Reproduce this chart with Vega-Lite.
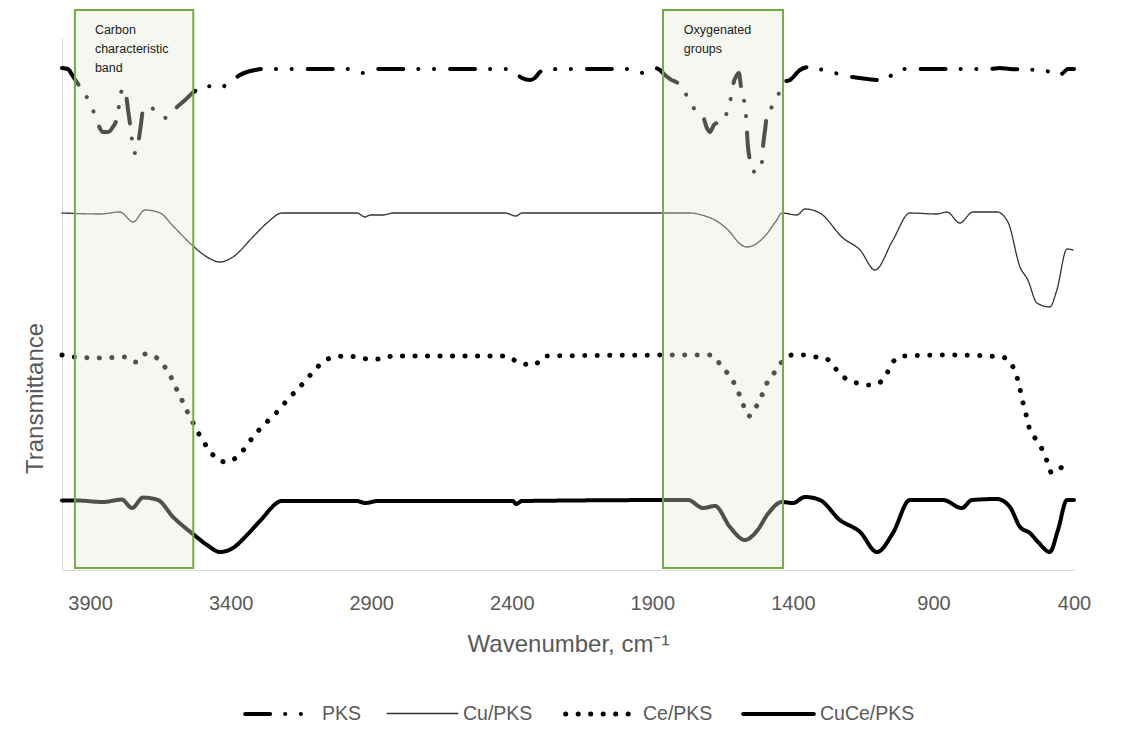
{
  "$schema": "https://vega.github.io/schema/vega-lite/v6.json",
  "width": 1012,
  "height": 532,
  "autosize": {"type": "none"},
  "padding": {"left": 62, "top": 38, "right": 58, "bottom": 174},
  "background": "#ffffff",
  "config": {
    "view": {"stroke": null},
    "font": "Liberation Sans",
    "axis": {"labelFont": "Liberation Sans", "titleFont": "Liberation Sans", "labelColor": "#595959", "titleColor": "#595959", "titleFontWeight": "normal"},
    "legend": {"labelFont": "Liberation Sans", "labelColor": "#595959"}
  },
  "datasets": {
    "spectra": [
      {"series": "PKS", "wn": 4000, "t": 125.5}, {"series": "PKS", "wn": 3979, "t": 125.25}, {"series": "PKS", "wn": 3964, "t": 123.75}, {"series": "PKS", "wn": 3950, "t": 122.25}, {"series": "PKS", "wn": 3929, "t": 120}, {"series": "PKS", "wn": 3908, "t": 117.75}, {"series": "PKS", "wn": 3886, "t": 114.25}, {"series": "PKS", "wn": 3872, "t": 111.5}, {"series": "PKS", "wn": 3854, "t": 109.5}, {"series": "PKS", "wn": 3836, "t": 109.5}, {"series": "PKS", "wn": 3819, "t": 110.75}, {"series": "PKS", "wn": 3804, "t": 113}, {"series": "PKS", "wn": 3797, "t": 116.25}, {"series": "PKS", "wn": 3787, "t": 120}, {"series": "PKS", "wn": 3779, "t": 120.5}, {"series": "PKS", "wn": 3772, "t": 118.75}, {"series": "PKS", "wn": 3765, "t": 115}, {"series": "PKS", "wn": 3758, "t": 111.5}, {"series": "PKS", "wn": 3751, "t": 107.5}, {"series": "PKS", "wn": 3744, "t": 104.25}, {"series": "PKS", "wn": 3737, "t": 104.25}, {"series": "PKS", "wn": 3730, "t": 106.25}, {"series": "PKS", "wn": 3719, "t": 111.5}, {"series": "PKS", "wn": 3712, "t": 115}, {"series": "PKS", "wn": 3698, "t": 115.75}, {"series": "PKS", "wn": 3683, "t": 115.5}, {"series": "PKS", "wn": 3662, "t": 114.75}, {"series": "PKS", "wn": 3641, "t": 113.25}, {"series": "PKS", "wn": 3627, "t": 113}, {"series": "PKS", "wn": 3609, "t": 114.25}, {"series": "PKS", "wn": 3594, "t": 115.5}, {"series": "PKS", "wn": 3562, "t": 117.5}, {"series": "PKS", "wn": 3527, "t": 119.75}, {"series": "PKS", "wn": 3509, "t": 120.5}, {"series": "PKS", "wn": 3481, "t": 121}, {"series": "PKS", "wn": 3456, "t": 120.5}, {"series": "PKS", "wn": 3438, "t": 120.5}, {"series": "PKS", "wn": 3413, "t": 121.5}, {"series": "PKS", "wn": 3392, "t": 122.5}, {"series": "PKS", "wn": 3367, "t": 123.75}, {"series": "PKS", "wn": 3342, "t": 124.5}, {"series": "PKS", "wn": 3313, "t": 125}, {"series": "PKS", "wn": 3289, "t": 125.25}, {"series": "PKS", "wn": 3153, "t": 125.25}, {"series": "PKS", "wn": 2976, "t": 125.25}, {"series": "PKS", "wn": 2951, "t": 124.5}, {"series": "PKS", "wn": 2929, "t": 124.25}, {"series": "PKS", "wn": 2904, "t": 124.75}, {"series": "PKS", "wn": 2876, "t": 125.25}, {"series": "PKS", "wn": 2478, "t": 125.25}, {"series": "PKS", "wn": 2424, "t": 125.25}, {"series": "PKS", "wn": 2396, "t": 124.75}, {"series": "PKS", "wn": 2378, "t": 123.75}, {"series": "PKS", "wn": 2364, "t": 123}, {"series": "PKS", "wn": 2335, "t": 122.5}, {"series": "PKS", "wn": 2318, "t": 123}, {"series": "PKS", "wn": 2300, "t": 124.5}, {"series": "PKS", "wn": 2282, "t": 125}, {"series": "PKS", "wn": 2229, "t": 125.25}, {"series": "PKS", "wn": 1980, "t": 125.25}, {"series": "PKS", "wn": 1955, "t": 124.75}, {"series": "PKS", "wn": 1933, "t": 124.25}, {"series": "PKS", "wn": 1908, "t": 125}, {"series": "PKS", "wn": 1891, "t": 125.5}, {"series": "PKS", "wn": 1873, "t": 125}, {"series": "PKS", "wn": 1855, "t": 123.75}, {"series": "PKS", "wn": 1837, "t": 122.75}, {"series": "PKS", "wn": 1798, "t": 121}, {"series": "PKS", "wn": 1773, "t": 118}, {"series": "PKS", "wn": 1755, "t": 115.75}, {"series": "PKS", "wn": 1738, "t": 113.75}, {"series": "PKS", "wn": 1720, "t": 113.25}, {"series": "PKS", "wn": 1706, "t": 110.5}, {"series": "PKS", "wn": 1695, "t": 109.5}, {"series": "PKS", "wn": 1681, "t": 111.25}, {"series": "PKS", "wn": 1663, "t": 112}, {"series": "PKS", "wn": 1645, "t": 112.5}, {"series": "PKS", "wn": 1631, "t": 115.5}, {"series": "PKS", "wn": 1620, "t": 118.25}, {"series": "PKS", "wn": 1613, "t": 121.25}, {"series": "PKS", "wn": 1603, "t": 123.25}, {"series": "PKS", "wn": 1592, "t": 124.25}, {"series": "PKS", "wn": 1585, "t": 121}, {"series": "PKS", "wn": 1574, "t": 117.5}, {"series": "PKS", "wn": 1567, "t": 113.75}, {"series": "PKS", "wn": 1560, "t": 106}, {"series": "PKS", "wn": 1553, "t": 102.5}, {"series": "PKS", "wn": 1542, "t": 100}, {"series": "PKS", "wn": 1531, "t": 99.25}, {"series": "PKS", "wn": 1521, "t": 100}, {"series": "PKS", "wn": 1510, "t": 102}, {"series": "PKS", "wn": 1506, "t": 106}, {"series": "PKS", "wn": 1499, "t": 110}, {"series": "PKS", "wn": 1492, "t": 113.75}, {"series": "PKS", "wn": 1475, "t": 115.75}, {"series": "PKS", "wn": 1460, "t": 117}, {"series": "PKS", "wn": 1446, "t": 120}, {"series": "PKS", "wn": 1435, "t": 122}, {"series": "PKS", "wn": 1410, "t": 122.5}, {"series": "PKS", "wn": 1386, "t": 124.25}, {"series": "PKS", "wn": 1375, "t": 125}, {"series": "PKS", "wn": 1343, "t": 125.75}, {"series": "PKS", "wn": 1322, "t": 125.5}, {"series": "PKS", "wn": 1293, "t": 125}, {"series": "PKS", "wn": 1250, "t": 124.25}, {"series": "PKS", "wn": 1225, "t": 123.75}, {"series": "PKS", "wn": 1161, "t": 123}, {"series": "PKS", "wn": 1090, "t": 122.5}, {"series": "PKS", "wn": 1062, "t": 123}, {"series": "PKS", "wn": 1037, "t": 124.5}, {"series": "PKS", "wn": 1001, "t": 125.25}, {"series": "PKS", "wn": 877, "t": 125.25}, {"series": "PKS", "wn": 699, "t": 125.25}, {"series": "PKS", "wn": 664, "t": 125.5}, {"series": "PKS", "wn": 628, "t": 125.25}, {"series": "PKS", "wn": 521, "t": 125}, {"series": "PKS", "wn": 486, "t": 124.5}, {"series": "PKS", "wn": 457, "t": 123.5}, {"series": "PKS", "wn": 439, "t": 124.25}, {"series": "PKS", "wn": 422, "t": 125.25}, {"series": "PKS", "wn": 400, "t": 125.25},

      {"series": "Cu/PKS", "wn": 4000, "t": 89.25}, {"series": "Cu/PKS", "wn": 3865, "t": 89}, {"series": "Cu/PKS", "wn": 3794, "t": 89.5}, {"series": "Cu/PKS", "wn": 3747, "t": 87}, {"series": "Cu/PKS", "wn": 3705, "t": 90}, {"series": "Cu/PKS", "wn": 3651, "t": 89.25}, {"series": "Cu/PKS", "wn": 3605, "t": 86}, {"series": "Cu/PKS", "wn": 3534, "t": 81}, {"series": "Cu/PKS", "wn": 3484, "t": 78.25}, {"series": "Cu/PKS", "wn": 3438, "t": 77}, {"series": "Cu/PKS", "wn": 3392, "t": 78.25}, {"series": "Cu/PKS", "wn": 3321, "t": 83.25}, {"series": "Cu/PKS", "wn": 3271, "t": 86.75}, {"series": "Cu/PKS", "wn": 3217, "t": 89.25}, {"series": "Cu/PKS", "wn": 2951, "t": 89.25}, {"series": "Cu/PKS", "wn": 2922, "t": 88.25}, {"series": "Cu/PKS", "wn": 2904, "t": 88.75}, {"series": "Cu/PKS", "wn": 2858, "t": 88.75}, {"series": "Cu/PKS", "wn": 2823, "t": 89.25}, {"series": "Cu/PKS", "wn": 2424, "t": 89.25}, {"series": "Cu/PKS", "wn": 2385, "t": 88.5}, {"series": "Cu/PKS", "wn": 2364, "t": 89.25}, {"series": "Cu/PKS", "wn": 1766, "t": 89.25}, {"series": "Cu/PKS", "wn": 1713, "t": 88.5}, {"series": "Cu/PKS", "wn": 1677, "t": 87.5}, {"series": "Cu/PKS", "wn": 1624, "t": 84.5}, {"series": "Cu/PKS", "wn": 1588, "t": 81.5}, {"series": "Cu/PKS", "wn": 1563, "t": 80.75}, {"series": "Cu/PKS", "wn": 1499, "t": 83.5}, {"series": "Cu/PKS", "wn": 1460, "t": 87.25}, {"series": "Cu/PKS", "wn": 1439, "t": 89.25}, {"series": "Cu/PKS", "wn": 1386, "t": 88.75}, {"series": "Cu/PKS", "wn": 1357, "t": 90.25}, {"series": "Cu/PKS", "wn": 1304, "t": 89.25}, {"series": "Cu/PKS", "wn": 1222, "t": 83}, {"series": "Cu/PKS", "wn": 1161, "t": 80}, {"series": "Cu/PKS", "wn": 1108, "t": 75}, {"series": "Cu/PKS", "wn": 1044, "t": 82.5}, {"series": "Cu/PKS", "wn": 984, "t": 89.25}, {"series": "Cu/PKS", "wn": 888, "t": 89}, {"series": "Cu/PKS", "wn": 852, "t": 89.5}, {"series": "Cu/PKS", "wn": 806, "t": 86.75}, {"series": "Cu/PKS", "wn": 760, "t": 89.5}, {"series": "Cu/PKS", "wn": 674, "t": 89.5}, {"series": "Cu/PKS", "wn": 635, "t": 87}, {"series": "Cu/PKS", "wn": 592, "t": 75.75}, {"series": "Cu/PKS", "wn": 564, "t": 72.5}, {"series": "Cu/PKS", "wn": 532, "t": 66.75}, {"series": "Cu/PKS", "wn": 486, "t": 65.75}, {"series": "Cu/PKS", "wn": 461, "t": 70}, {"series": "Cu/PKS", "wn": 425, "t": 80.25}, {"series": "Cu/PKS", "wn": 404, "t": 80},

      {"series": "Ce/PKS", "wn": 4000, "t": 53.75}, {"series": "Ce/PKS", "wn": 3954, "t": 53.25}, {"series": "Ce/PKS", "wn": 3865, "t": 53}, {"series": "Ce/PKS", "wn": 3776, "t": 53.25}, {"series": "Ce/PKS", "wn": 3737, "t": 52}, {"series": "Ce/PKS", "wn": 3705, "t": 54}, {"series": "Ce/PKS", "wn": 3662, "t": 53}, {"series": "Ce/PKS", "wn": 3634, "t": 50.75}, {"series": "Ce/PKS", "wn": 3609, "t": 47.75}, {"series": "Ce/PKS", "wn": 3591, "t": 45}, {"series": "Ce/PKS", "wn": 3570, "t": 42}, {"series": "Ce/PKS", "wn": 3552, "t": 39.25}, {"series": "Ce/PKS", "wn": 3530, "t": 36.25}, {"series": "Ce/PKS", "wn": 3509, "t": 33.5}, {"series": "Ce/PKS", "wn": 3484, "t": 30.75}, {"series": "Ce/PKS", "wn": 3456, "t": 28.25}, {"series": "Ce/PKS", "wn": 3417, "t": 27}, {"series": "Ce/PKS", "wn": 3378, "t": 28.25}, {"series": "Ce/PKS", "wn": 3346, "t": 30.75}, {"series": "Ce/PKS", "wn": 3321, "t": 33.25}, {"series": "Ce/PKS", "wn": 3289, "t": 35.75}, {"series": "Ce/PKS", "wn": 3257, "t": 38}, {"series": "Ce/PKS", "wn": 3225, "t": 40.25}, {"series": "Ce/PKS", "wn": 3196, "t": 42.75}, {"series": "Ce/PKS", "wn": 3164, "t": 45}, {"series": "Ce/PKS", "wn": 3132, "t": 47.5}, {"series": "Ce/PKS", "wn": 3104, "t": 49.75}, {"series": "Ce/PKS", "wn": 3072, "t": 52}, {"series": "Ce/PKS", "wn": 3032, "t": 53.25}, {"series": "Ce/PKS", "wn": 2986, "t": 53.5}, {"series": "Ce/PKS", "wn": 2904, "t": 52.75}, {"series": "Ce/PKS", "wn": 2862, "t": 52.75}, {"series": "Ce/PKS", "wn": 2823, "t": 53.5}, {"series": "Ce/PKS", "wn": 2424, "t": 53.5}, {"series": "Ce/PKS", "wn": 2371, "t": 51.75}, {"series": "Ce/PKS", "wn": 2321, "t": 51.25}, {"series": "Ce/PKS", "wn": 2282, "t": 53.5}, {"series": "Ce/PKS", "wn": 1691, "t": 53.75}, {"series": "Ce/PKS", "wn": 1652, "t": 50.75}, {"series": "Ce/PKS", "wn": 1613, "t": 47.25}, {"series": "Ce/PKS", "wn": 1588, "t": 43.5}, {"series": "Ce/PKS", "wn": 1556, "t": 38.5}, {"series": "Ce/PKS", "wn": 1531, "t": 40.75}, {"series": "Ce/PKS", "wn": 1510, "t": 43.75}, {"series": "Ce/PKS", "wn": 1492, "t": 46.75}, {"series": "Ce/PKS", "wn": 1467, "t": 49.25}, {"series": "Ce/PKS", "wn": 1439, "t": 52}, {"series": "Ce/PKS", "wn": 1403, "t": 53.75}, {"series": "Ce/PKS", "wn": 1364, "t": 53.75}, {"series": "Ce/PKS", "wn": 1318, "t": 53.25}, {"series": "Ce/PKS", "wn": 1279, "t": 52.75}, {"series": "Ce/PKS", "wn": 1247, "t": 50.25}, {"series": "Ce/PKS", "wn": 1215, "t": 48}, {"series": "Ce/PKS", "wn": 1172, "t": 46.75}, {"series": "Ce/PKS", "wn": 1133, "t": 46.25}, {"series": "Ce/PKS", "wn": 1094, "t": 46.75}, {"series": "Ce/PKS", "wn": 1065, "t": 49.25}, {"series": "Ce/PKS", "wn": 1044, "t": 52}, {"series": "Ce/PKS", "wn": 1012, "t": 53.5}, {"series": "Ce/PKS", "wn": 834, "t": 53.75}, {"series": "Ce/PKS", "wn": 656, "t": 53.25}, {"series": "Ce/PKS", "wn": 621, "t": 51.25}, {"series": "Ce/PKS", "wn": 603, "t": 48.25}, {"series": "Ce/PKS", "wn": 592, "t": 45.25}, {"series": "Ce/PKS", "wn": 582, "t": 42}, {"series": "Ce/PKS", "wn": 571, "t": 39}, {"series": "Ce/PKS", "wn": 560, "t": 35.75}, {"series": "Ce/PKS", "wn": 539, "t": 33}, {"series": "Ce/PKS", "wn": 514, "t": 30.25}, {"series": "Ce/PKS", "wn": 496, "t": 27.25}, {"series": "Ce/PKS", "wn": 479, "t": 24.25}, {"series": "Ce/PKS", "wn": 443, "t": 25.75}, {"series": "Ce/PKS", "wn": 414, "t": 27.5},

      {"series": "CuCe/PKS", "wn": 4000, "t": 17.4}, {"series": "CuCe/PKS", "wn": 3954, "t": 17.4}, {"series": "CuCe/PKS", "wn": 3854, "t": 17}, {"series": "CuCe/PKS", "wn": 3787, "t": 17.6}, {"series": "CuCe/PKS", "wn": 3751, "t": 15.5}, {"series": "CuCe/PKS", "wn": 3712, "t": 18.1}, {"series": "CuCe/PKS", "wn": 3659, "t": 17.5}, {"series": "CuCe/PKS", "wn": 3605, "t": 13.25}, {"series": "CuCe/PKS", "wn": 3534, "t": 9}, {"series": "CuCe/PKS", "wn": 3484, "t": 6.25}, {"series": "CuCe/PKS", "wn": 3438, "t": 4.5}, {"series": "CuCe/PKS", "wn": 3392, "t": 5.5}, {"series": "CuCe/PKS", "wn": 3342, "t": 8.75}, {"series": "CuCe/PKS", "wn": 3296, "t": 12.25}, {"series": "CuCe/PKS", "wn": 3217, "t": 17.25}, {"series": "CuCe/PKS", "wn": 2951, "t": 17.25}, {"series": "CuCe/PKS", "wn": 2922, "t": 16.75}, {"series": "CuCe/PKS", "wn": 2876, "t": 17.25}, {"series": "CuCe/PKS", "wn": 2396, "t": 17.25}, {"series": "CuCe/PKS", "wn": 2385, "t": 16.5}, {"series": "CuCe/PKS", "wn": 2364, "t": 17.25}, {"series": "CuCe/PKS", "wn": 1773, "t": 17.5}, {"series": "CuCe/PKS", "wn": 1720, "t": 15.5}, {"series": "CuCe/PKS", "wn": 1677, "t": 16}, {"series": "CuCe/PKS", "wn": 1624, "t": 10.75}, {"series": "CuCe/PKS", "wn": 1571, "t": 7.5}, {"series": "CuCe/PKS", "wn": 1528, "t": 9.75}, {"series": "CuCe/PKS", "wn": 1489, "t": 14}, {"series": "CuCe/PKS", "wn": 1439, "t": 17}, {"series": "CuCe/PKS", "wn": 1400, "t": 16.75}, {"series": "CuCe/PKS", "wn": 1357, "t": 18.25}, {"series": "CuCe/PKS", "wn": 1304, "t": 17.5}, {"series": "CuCe/PKS", "wn": 1233, "t": 12.5}, {"series": "CuCe/PKS", "wn": 1161, "t": 9.5}, {"series": "CuCe/PKS", "wn": 1101, "t": 4.5}, {"series": "CuCe/PKS", "wn": 1044, "t": 9.25}, {"series": "CuCe/PKS", "wn": 984, "t": 17.5}, {"series": "CuCe/PKS", "wn": 866, "t": 17.5}, {"series": "CuCe/PKS", "wn": 799, "t": 15.5}, {"series": "CuCe/PKS", "wn": 763, "t": 17.5}, {"series": "CuCe/PKS", "wn": 674, "t": 17.75}, {"series": "CuCe/PKS", "wn": 628, "t": 15.75}, {"series": "CuCe/PKS", "wn": 592, "t": 10.75}, {"series": "CuCe/PKS", "wn": 557, "t": 9.25}, {"series": "CuCe/PKS", "wn": 528, "t": 7}, {"series": "CuCe/PKS", "wn": 486, "t": 4.5}, {"series": "CuCe/PKS", "wn": 457, "t": 10}, {"series": "CuCe/PKS", "wn": 425, "t": 17.5}, {"series": "CuCe/PKS", "wn": 400, "t": 17.5}
    ],
    "boxes": [
      {"region": "Carbon characteristic band", "from": 3954, "to": 3533, "low": 0.5, "high": 140},
      {"region": "Oxygenated groups", "from": 1862, "to": 1435, "low": 0.5, "high": 140}
    ],
    "notes": [
      {"wn": 3883, "t": 136.5, "label": "Carbon\ncharacteristic\nband"},
      {"wn": 1788, "t": 136.5, "label": "Oxygenated\ngroups"}
    ]
  },
  "layer": [
    {
      "data": {"name": "spectra"},
      "mark": {"type": "line", "interpolate": "monotone", "strokeCap": "round", "strokeJoin": "round"},
      "encoding": {
        "x": {
          "field": "wn", "type": "quantitative",
          "scale": {"domain": [400, 4000], "reverse": true, "nice": false, "zero": false},
          "axis": {
            "values": [3900, 3400, 2900, 2400, 1900, 1400, 900, 400],
            "format": "d", "ticks": false, "grid": false,
            "domainColor": "#d9d9d9", "domainWidth": 1,
            "labelFontSize": 20, "labelPadding": 23, "labelFlush": false, "labelOverlap": false,
            "title": "Wavenumber, cm⁻¹", "titleFontSize": 24, "titlePadding": 19
          }
        },
        "y": {
          "field": "t", "type": "quantitative",
          "scale": {"domain": [0, 133], "nice": false, "zero": false},
          "axis": {
            "labels": false, "ticks": false, "grid": false,
            "domainColor": "#d9d9d9", "domainWidth": 1,
            "title": "Transmittance", "titleFontSize": 24,
            "titleX": -27, "titleY": 360, "titleBaseline": "middle", "titleAlign": "center"
          }
        },
        "color": {
          "field": "series", "type": "nominal", "title": null,
          "scale": {"domain": ["PKS", "Cu/PKS", "Ce/PKS", "CuCe/PKS"], "range": ["#000000", "#333333", "#000000", "#000000"]},
          "legend": {
            "orient": "none", "legendX": 181, "legendY": 638, "direction": "horizontal",
            "symbolType": "stroke", "symbolSize": 5000, "labelFontSize": 19.5, "labelOffset": 4,
            "columnPadding": 22, "padding": 0,
            "encode": {"symbols": {"update": {"strokeCap": {"value": "round"}}}}
          }
        },
        "strokeDash": {
          "field": "series", "type": "nominal", "title": null,
          "scale": {"domain": ["PKS", "Cu/PKS", "Ce/PKS", "CuCe/PKS"], "range": [[25, 15, 0.1, 15.6, 0.1, 16], [1, 0], [0.1, 12.4], [1, 0]]},
          "legend": {
            "orient": "none", "legendX": 181, "legendY": 638, "direction": "horizontal",
            "symbolType": "stroke", "symbolSize": 5000, "labelFontSize": 19.5, "labelOffset": 4,
            "columnPadding": 22, "padding": 0,
            "encode": {"symbols": {"update": {"strokeCap": {"value": "round"}}}}
          }
        },
        "strokeWidth": {
          "field": "series", "type": "nominal", "title": null,
          "scale": {"type": "ordinal", "domain": ["PKS", "Cu/PKS", "Ce/PKS", "CuCe/PKS"], "range": [4, 1.3, 5, 4]},
          "legend": {
            "orient": "none", "legendX": 181, "legendY": 638, "direction": "horizontal",
            "symbolType": "stroke", "symbolSize": 5000, "labelFontSize": 19.5, "labelOffset": 4,
            "columnPadding": 22, "padding": 0,
            "encode": {"symbols": {"update": {"strokeCap": {"value": "round"}}}}
          }
        }
      }
    },
    {
      "data": {"name": "boxes"},
      "mark": {"type": "rect", "fill": "#e2ebd6", "fillOpacity": 0.35, "stroke": "#70ad47", "strokeWidth": 2},
      "encoding": {
        "x": {"field": "from", "type": "quantitative"},
        "x2": {"field": "to"},
        "y": {"field": "low", "type": "quantitative"},
        "y2": {"field": "high"}
      }
    },
    {
      "data": {"name": "notes"},
      "mark": {"type": "text", "align": "left", "baseline": "top", "lineBreak": "\n", "lineHeight": 19, "fontSize": 12.5, "font": "Liberation Sans", "color": "#1a1a1a"},
      "encoding": {
        "x": {"field": "wn", "type": "quantitative"},
        "y": {"field": "t", "type": "quantitative"},
        "text": {"field": "label"}
      }
    }
  ]
}
